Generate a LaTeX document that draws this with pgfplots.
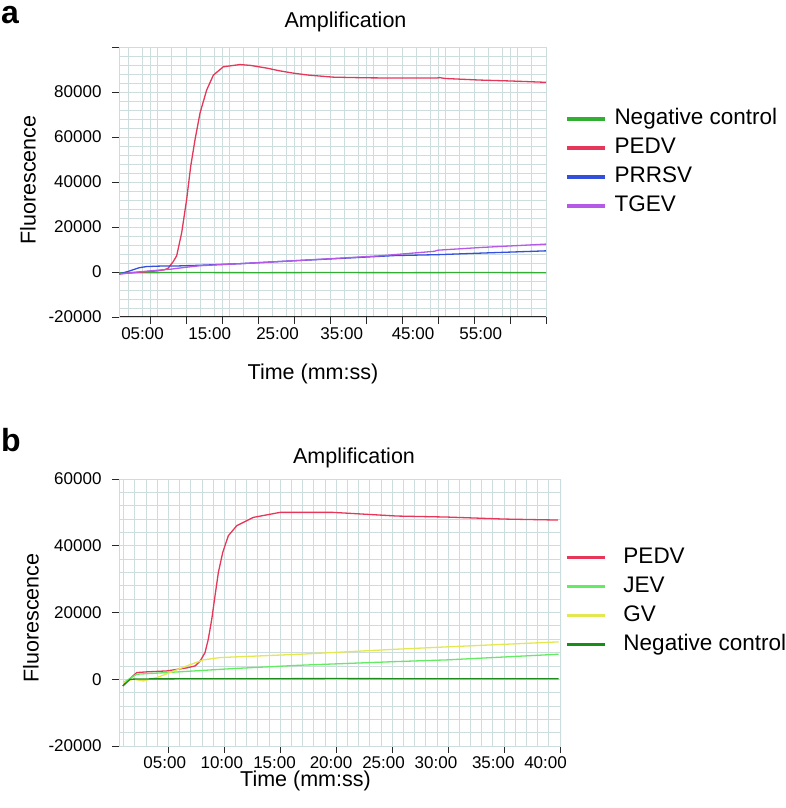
\documentclass[border=0pt]{standalone}
\usepackage{pgfplots}
\pgfplotsset{compat=1.18}
\usepackage{fontspec}
\setmainfont{Liberation Sans}

\definecolor{pedv}{RGB}{230,55,90}
\definecolor{negA}{RGB}{50,175,50}
\definecolor{prrsv}{RGB}{50,80,220}
\definecolor{tgev}{RGB}{180,90,230}
\definecolor{jev}{RGB}{100,235,100}
\definecolor{gv}{RGB}{228,232,80}
\definecolor{negB}{RGB}{25,140,25}
\definecolor{gridc}{RGB}{205,220,220}
\definecolor{axc}{RGB}{40,40,40}

\newcommand{\tickfont}{\fontsize{17}{20}\selectfont}
\newcommand{\labfont}{\fontsize{21.5}{24}\selectfont}

\pgfplotsset{
  ampl/.style={
    scale only axis,
    axis x line*=bottom, axis y line*=left,
    axis line style={draw=axc, line width=1pt},
    tick style={draw=axc, line width=0.8pt},
    tick align=outside,
    major tick length=7pt, minor tick length=0pt,
    grid=both,
    major grid style={draw=gridc, line width=0.8pt},
    minor grid style={draw=gridc, line width=0.8pt},
    ticklabel style={font=\tickfont},
    yticklabel style={xshift=-7pt},
    scaled y ticks=false,
    xticklabels={},
    extra x tick style={grid=none, tick style={draw=none}},
    legend cell align=left,
    legend image code/.code={\draw[##1, line width=3.5pt] (0pt,0pt) -- (38pt,0pt);},
    legend style={draw=none, fill=none, inner sep=0pt, outer sep=0pt,
      font=\fontsize{22.5}{24}\selectfont, row sep=11pt,
      nodes={inner sep=0pt, text height=15pt, text depth=3pt}},
    every axis plot/.append style={line width=1.3pt},
  },
}

\begin{document}
\begin{tikzpicture}
\useasboundingbox (0,0) rectangle (785pt,808pt);

% panel a
\begin{axis}[ampl, at={(119pt,491pt)}, anchor=south west,
  width=427pt, height=270pt,
  xmin=0.69, xmax=60, ymin=-20000, ymax=100000,
  xtick={5,10,...,60}, minor xtick={2,4,...,58},
  ytick={-20000,0,20000,40000,60000,80000,100000},
  yticklabels={-20000,0,20000,40000,60000,80000,{}},
  minor y tick num=4,
  extra x ticks={3.96,13.29,22.71,31.63,41.53,50.93},
  extra x tick labels={05:00,15:00,25:00,35:00,45:00,55:00},
  legend style={at={(1.0445,0.7667)}, anchor=north west, column sep=8pt},
]
\draw[gridc, line width=0.8pt] (rel axis cs:0,0) rectangle (rel axis cs:1,1);
\addplot[negA] coordinates {(0.69,-300) (10,-250) (20,-300) (30,-250) (40,-300) (50,-250) (60,-300)};
\addlegendentry{Negative control}
\addplot[pedv] coordinates {
  (0.69,-900) (2,-500) (4,0) (6,500) (7,1000) (7.5,1600) (7.78,2800) (8.2,4500)
  (8.7,7200) (9.4,17500) (10.09,32300) (10.65,47000) (11.25,58800) (11.94,70600)
  (12.87,80900) (13.8,87500) (15.18,91200) (17.5,92200) (19,91800) (21.25,90600)
  (23,89400) (24.86,88400) (27,87500) (30.42,86600) (35,86300) (39.31,86200)
  (44.86,86200) (45.2,86400) (46,86000) (50.83,85300) (55,84900) (60,84300)};
\addlegendentry{PEDV}
\addplot[prrsv] coordinates {
  (0.69,-900) (2,300) (3.5,1900) (4.5,2400) (7,2700) (9,2700) (12,3000) (17.5,3700)
  (25,5000) (30,5800) (39,7300) (45,7700) (51,8400) (60,9400)};
\addlegendentry{PRRSV}
\addplot[tgev] coordinates {
  (0.69,-900) (3,-100) (5,500) (8,1300) (10,2100) (12,2800) (17.5,3700) (25,5000)
  (30,5900) (37,7200) (40,8000) (43,8800) (44.5,9200) (45,9700) (51,10900) (60,12400)};
\addlegendentry{TGEV}
\end{axis}

% panel b
\begin{axis}[ampl, at={(119pt,62pt)}, anchor=south west,
  width=442pt, height=267pt,
  xmin=0.59, xmax=40.09, ymin=-20000, ymax=60000,
  xtick={5,10,...,40}, minor xtick={1,2,...,40},
  ytick={-20000,0,20000,40000,60000},
  yticklabels={-20000,0,20000,40000,60000},
  minor y tick num=4,
  extra x ticks={4.68,9.78,14.49,19.54,24.23,28.92,34.04,38.71},
  extra x tick labels={05:00,10:00,15:00,20:00,25:00,30:00,35:00,40:00},
  legend style={at={(1.009,0.7404)}, anchor=north west, column sep=17pt},
]
\draw[gridc, line width=0.8pt] (rel axis cs:0,0) rectangle (rel axis cs:1,1);
\addplot[pedv] coordinates {
  (0.93,-2000) (1.5,0) (2.18,2000) (3,2200) (4.86,2500) (6.64,3400) (7.4,4000)
  (7.85,5500) (8.28,8000) (8.57,12000) (8.88,18000) (9.17,25000) (9.47,32000)
  (9.86,38000) (10.36,43000) (11.11,46000) (12.6,48500) (14.98,50000) (19.72,50000)
  (25.44,48900) (29.9,48600) (35,48000) (39.82,47700)};
\addlegendentry{PEDV}
\addplot[jev] coordinates {
  (0.98,-1000) (2.18,1500) (4.86,2000) (10.8,3200) (16.77,4200) (25.4,5300)
  (29.88,5800) (39.88,7500)};
\addlegendentry{JEV}
\addplot[gv] coordinates {
  (0.98,-1000) (1.87,0) (2.77,-500) (3.96,500) (5.15,2000) (6.64,4000) (8.13,5800)
  (9.62,6500) (16.77,7500) (25.4,9000) (29.88,9700) (39.88,11200)};
\addlegendentry{GV}
\addplot[negB] coordinates {
  (0.93,-2000) (1.58,0) (2.5,100) (10,150) (20,200) (30,150) (39.88,150)};
\addlegendentry{Negative control}
\end{axis}

% titles and labels
\node[font=\fontsize{32}{36}\selectfont\bfseries, anchor=base west, inner sep=0pt] at (1pt,784pt) {a};
\node[font=\fontsize{32}{36}\selectfont\bfseries, anchor=base west, inner sep=0pt] at (1pt,356pt) {b};
\node[font=\labfont, anchor=base] at (345.5pt,780pt) {Amplification};
\node[font=\labfont, anchor=base] at (354pt,344pt) {Amplification};
\node[font=\labfont, rotate=90] at (28pt,628pt) {Fluorescence};
\node[font=\labfont, rotate=90] at (31pt,190pt) {Fluorescence};
\node[font=\labfont, anchor=base] at (313pt,428pt) {Time (mm:ss)};
\node[font=\labfont, anchor=base] at (305.5pt,21.3pt) {Time (mm:ss)};
\end{tikzpicture}
\end{document}
